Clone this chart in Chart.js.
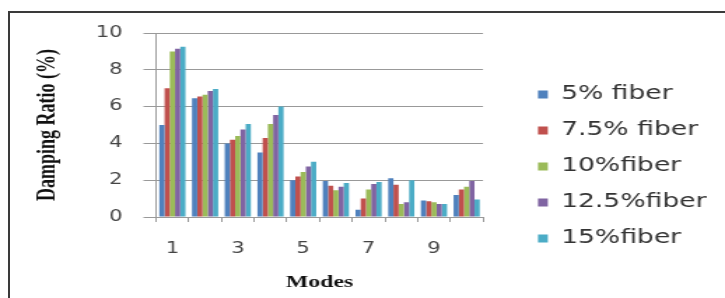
<!DOCTYPE html>
<html><head><meta charset="utf-8">
<script src="https://cdn.jsdelivr.net/npm/chart.js@4"></script>
<style>
html,body{margin:0;padding:0;background:#fff;overflow:hidden;width:725px;height:298px;}
#frame{position:absolute;left:8px;top:11px;width:740px;height:300px;border-left:2px solid #3a3a3a;border-top:2px solid #3a3a3a;}
#wrap{position:absolute;left:0;top:0;width:518px;height:298px;transform:scaleX(1.3996);transform-origin:0 0;}
</style></head><body>
<div id="frame"></div>
<div id="wrap"><canvas id="c"></canvas></div>
<script>
const modes = ['1','2','3','4','5','6','7','8','9','10'];
const fiber5   = [5.0, 6.45, 4.0, 3.5, 2.0, 1.95, 0.4, 2.1, 0.9, 1.2];
const fiber7_5 = [7.0, 6.55, 4.2, 4.3, 2.2, 1.7, 1.0, 1.75, 0.85, 1.5];
const fiber10  = [9.0, 6.65, 4.4, 5.05, 2.45, 1.45, 1.5, 0.7, 0.8, 1.65];
const fiber12_5= [9.15, 6.85, 4.75, 5.55, 2.75, 1.65, 1.8, 0.8, 0.7, 1.95];
const fiber15  = [9.25, 6.95, 5.05, 6.0, 3.0, 1.85, 1.9, 2.0, 0.7, 0.95];
const seriesNames = ['5% fiber','7.5% fiber','10%fiber','12.5%fiber','15%fiber'];
const yTicks = [0, 2, 4, 6, 8, 10];

const colors = ['#4F81BD','#C0504D','#9BBB59','#8064A2','#4BACC6'];
const seriesData = [fiber5, fiber7_5, fiber10, fiber12_5, fiber15];

const LEGEND_W = 172.9;
const placeLegend = {
  id: 'placeLegend',
  beforeLayout(chart) {
    const lg = chart.legend;
    if (lg && !lg._wrappedFit) {
      const fit = lg.fit.bind(lg);
      lg.fit = function(){ fit(); this.width = LEGEND_W; };
      lg._wrappedFit = true;
    }
  },
  afterLayout(chart) {
    const lg = chart.legend;
    if (!lg) return;
    lg.left = 367.4;
    lg.top = 68;
    lg.bottom = 298;
  }
};

new Chart(document.getElementById('c'), {
  type: 'bar',
  data: {
    labels: modes,
    datasets: seriesData.map((d, i) => ({
      label: seriesNames[i],
      data: d,
      backgroundColor: colors[i],
      borderWidth: 0,
      categoryPercentage: 0.8,
      barPercentage: 1.0
    }))
  },
  options: {
    responsive: true,
    maintainAspectRatio: false,
    animation: false,
    layout: { padding: { top: 33, left: 0, right: 0, bottom: 0 } },
    plugins: {
      legend: {
        position: 'right',
        align: 'start',
        labels: {
          boxWidth: 7, boxHeight: 8, padding: 17,
          color: '#333',
          font: { family: 'DejaVu Sans', size: 19 }
        }
      },
      tooltip: { enabled: false }
    },
    scales: {
      x: {
        afterFit(s) { s.height = 81; },
        grid: { display: true, drawOnChartArea: false, drawTicks: true, tickLength: 5, color: '#999', offset: true },
        border: { display: true, color: '#999' },
        ticks: {
          autoSkip: false, maxRotation: 0, padding: 18,
          color: '#444', font: { family: 'DejaVu Sans', size: 15 },
          callback: function(v, i) { return i % 2 === 0 ? this.getLabelForValue(v) : ''; }
        },
        title: {
          display: true, text: 'Modes', color: '#111',
          font: { family: 'Liberation Serif', size: 17, weight: 'bold' },
          padding: { top: 0, bottom: 5 }
        }
      },
      y: {
        afterFit(s) { s.width = 111.5; },
        min: 0, max: 10,
        afterBuildTicks(s) { s.ticks = yTicks.map(v => ({ value: v })); },
        grid: { color: '#999', tickLength: 9, drawTicks: true },
        border: { display: true, color: '#999' },
        ticks: {
          padding: 15, color: '#444',
          font: { family: 'DejaVu Sans', size: 15 }
        },
        title: {
          display: true, text: 'Damping Ratio (%)', color: '#111',
          font: { family: 'Liberation Serif', size: 18, weight: 'bold' },
          padding: { top: 23.5, bottom: 0 }
        }
      }
    }
  },
  plugins: [placeLegend]
});
</script>
</body></html>
